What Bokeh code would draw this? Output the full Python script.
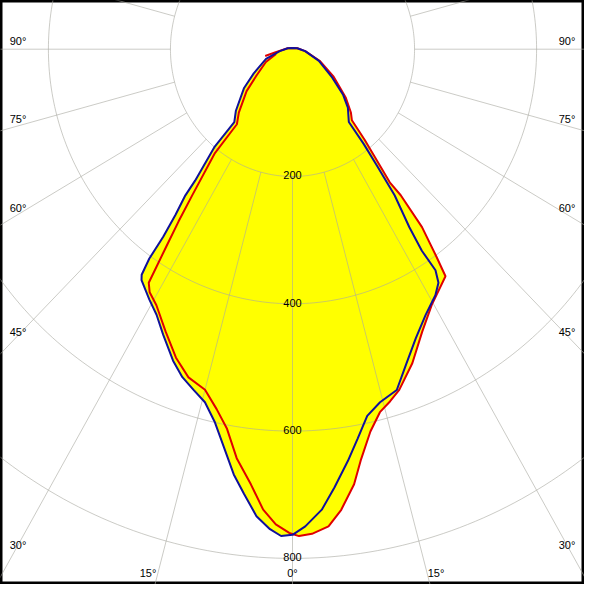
import numpy as np
from bokeh.plotting import figure
from bokeh.models import ColumnDataSource
from bokeh.embed import file_html
from bokeh.resources import INLINE
from bokeh.core.properties import value

# ---- data ----
# C0-C180 plane (blue): gamma angle in degrees, luminous intensity in cd
blue_gamma = [-180, -100, -81.6, -70.5, -59.1, -52.5, -43.8, -39.8, -39.8, -37.7, -37.4, -36.4,
              -35.7, -35.5, -34.9, -34.3, -30.8, -28.1, -25.3, -21.8, -19.3, -16.9, -14.5,
              -12.3, -10.1, -8.2, -6.5, -4.6, -2.8, -1.4, 0.0, 1.6, 3.8, 5.7, 8.0, 9.9, 12.0,
              14.5, 17.7, 20.7, 24.0, 27.6, 31.2, 33.1, 34.0, 33.8, 34.4, 36.1, 37.1, 38.1,
              38.9, 44.7, 49.1, 56.1, 67.0, 81.6, 100, 180]
blue_cd = [2, 8, 21, 46, 74, 100, 134, 149, 199, 261, 289, 323,
           363, 404, 432, 439, 458, 473, 496, 527, 546, 559, 573,
           599, 637, 675, 703, 736, 755, 765, 763, 750, 725, 692, 653, 621, 589,
           573, 562, 528, 497, 471, 452, 438, 419, 381, 339, 284, 230, 189,
           147, 129, 110, 77, 47, 21, 8, 2]

# C90-C270 plane (red)
red_gamma = [-76.5, -80.4, -100, 180, 100, 81.6, 67.7, 57.4, 48.9, 43.9, 41.1, 39.7, 37.3,
             37.7, 37.2, 35.9, 35.1, 29.6, 25.6, 21.7, 18.1, 16.1, 14.1, 12.0, 9.8, 8.4,
             6.3, 4.5, 2.4, 0.8, -0.4, -2.1, -3.8, -5.7, -8.1, -10.2, -12.4, -15.0, -18.3,
             -21.5, -25.1, -29.0, -31.5, -32.7, -33.7, -34.6, -35.6, -37.9, -37.7, -41.4,
             -48.8, -55.0, -65.2, -74.3]
red_cd = [46, 28, 8, 2, 8, 21, 48, 80, 116, 138, 148, 185, 263,
          290, 351, 402, 436, 462, 492, 531, 563, 576, 588, 614, 656, 691,
          728, 752, 762, 765, 760, 747, 725, 687, 649, 606, 579, 554, 543,
          521, 490, 460, 448, 436, 373, 329, 282, 208, 149, 133,
          100, 72, 48, 28]

ring_values = [200, 400, 600, 800, 1000]
ring_labels = ["200", "400", "600", "800"]
side_angles = [90, 75, 60, 45, 30]
side_labels = ["90°", "75°", "60°", "45°", "30°"]
bottom_angles = [-15, 0, 15]
bottom_labels = ["15°", "0°", "15°"]


def polar_xy(gamma_deg, cd):
    g = np.radians(np.asarray(gamma_deg, dtype=float))
    r = np.asarray(cd, dtype=float)
    return r * np.sin(g), -r * np.cos(g)


bx, by = polar_xy(blue_gamma, blue_cd)
rx, ry = polar_xy(red_gamma, red_cd)

X_HALF = 478.5
Y_TOP = 76.5
Y_BOT = -841.0

p = figure(width=584, height=584, output_backend="svg", toolbar_location=None,
           x_range=(-X_HALF, X_HALF), y_range=(Y_BOT, Y_TOP),
           x_axis_type=None, y_axis_type=None, min_border=0,
           background_fill_color="white", border_fill_color="white")
p.grid.visible = False
p.outline_line_color = "black"
p.outline_line_width = 4

FONT = value("Liberation Sans")
FS = value("11px")

# fills (union of both planes)
p.patch(bx, by, fill_color="#ffff00", line_color=None)
p.patch(rx, ry, fill_color="#ffff00", line_color=None)

# polar grid
t = np.radians(np.arange(0, 361, 1))
ring_xs = [list(r * np.sin(t)) for r in ring_values]
ring_ys = [list(-r * np.cos(t)) for r in ring_values]
spoke_ang = np.radians(np.arange(0, 360, 15))
r0, r1 = ring_values[0], 1200
spoke_xs = [[r0 * np.sin(a), r1 * np.sin(a)] for a in spoke_ang]
spoke_ys = [[-r0 * np.cos(a), -r1 * np.cos(a)] for a in spoke_ang]
p.multi_line(ring_xs + spoke_xs, ring_ys + spoke_ys, line_color="#a8a8a0",
             line_alpha=0.6, line_width=1)

# curves
p.line(rx, ry, line_color="#e00000", line_width=2)
p.line(bx, by, line_color="#10109c", line_width=2)

# ring labels
p.text(x=[0] * len(ring_labels), y=[-v for v in ring_values[:len(ring_labels)]],
       text=ring_labels, text_align="center", text_baseline="alphabetic",
       y_offset=-1, text_font=FONT, text_font_size=FS, text_color="black")

# side angle labels
edge_x = 449.8
side_y = [-edge_x / np.tan(np.radians(a)) if a != 90 else 0.0 for a in side_angles]
side_off = [-8, -7, -6, -3, 0]
src_side = ColumnDataSource(dict(
    x=[-edge_x] * len(side_angles) + [edge_x] * len(side_angles),
    y=side_y + side_y,
    text=side_labels + side_labels,
    yo=side_off + side_off))
p.text(x="x", y="y", text="text", y_offset="yo", source=src_side,
       text_align="center", text_baseline="middle",
       text_font=FONT, text_font_size=FS, text_color="black")

# bottom angle labels
bot_y = -822.6
bot_x = [bot_y * -np.tan(np.radians(a)) for a in bottom_angles]
bot_off = [-10 if a < 0 else (9 if a > 0 else 0) for a in bottom_angles]
src_bot = ColumnDataSource(dict(x=bot_x, y=[bot_y] * 3, text=bottom_labels, xo=bot_off))
p.text(x="x", y="y", text="text", x_offset="xo", source=src_bot,
       text_align="center", text_baseline="middle",
       text_font=FONT, text_font_size=FS, text_color="black")

open("out.html", "w").write(file_html(p, INLINE))
